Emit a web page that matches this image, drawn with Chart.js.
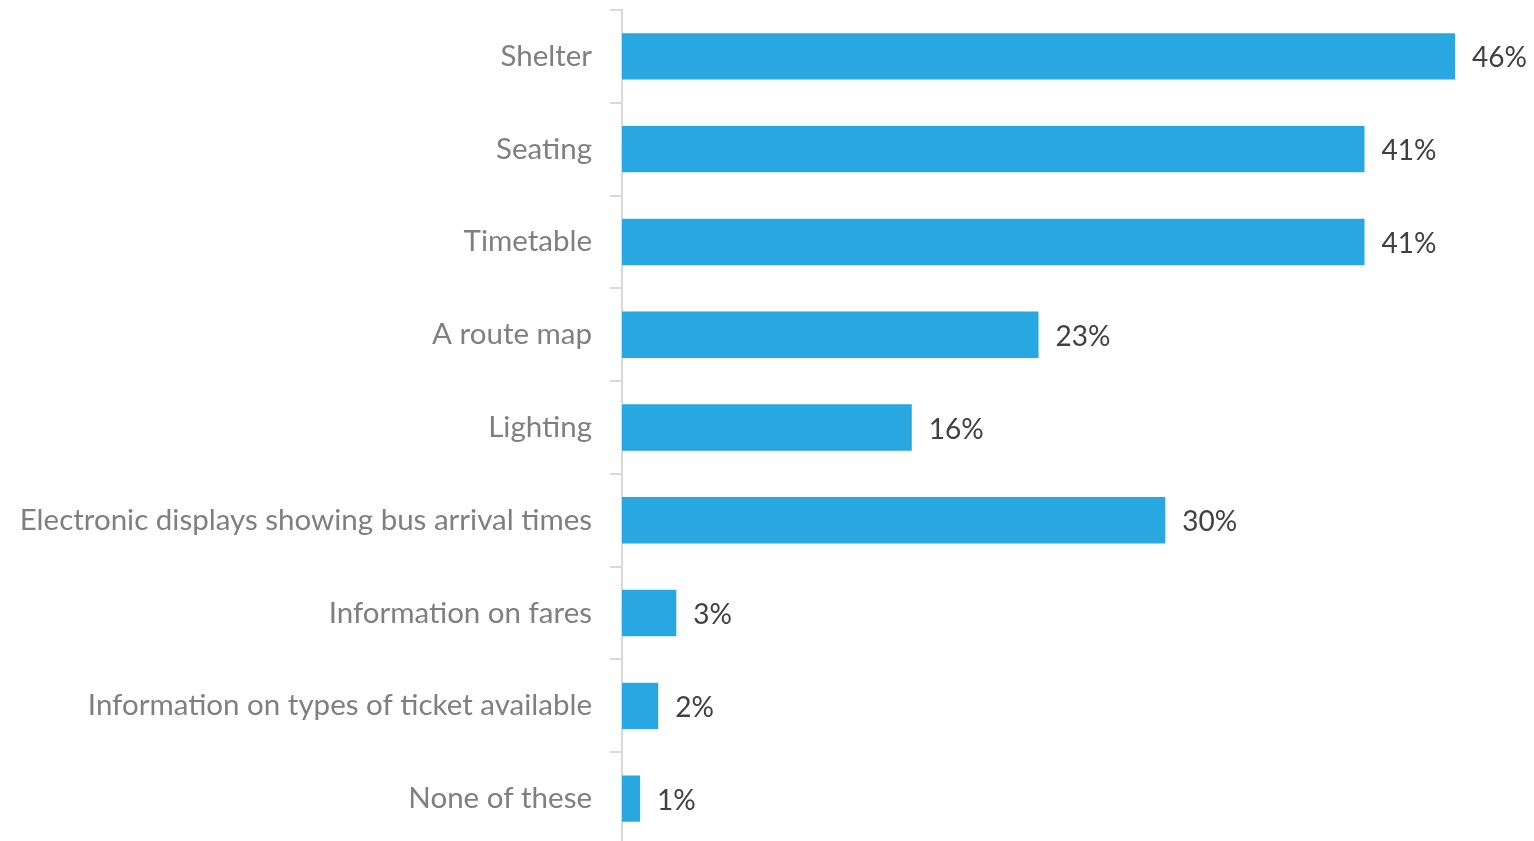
<!DOCTYPE html>
<html>
<head>
<meta charset="utf-8">
<script src="https://cdn.jsdelivr.net/npm/chart.js@4/dist/chart.umd.min.js"></script>
<style>
html,body{margin:0;padding:0;background:#fff;overflow:hidden;}
#wrap{position:relative;width:1534px;height:845px;}
</style>
</head>
<body>
<div id="wrap"><canvas id="c"></canvas></div>
<script>
const categories = [
  "Shelter",
  "Seating",
  "Timetable",
  "A route map",
  "Lighting",
  "Electronic displays showing bus arrival times",
  "Information on fares",
  "Information on types of ticket available",
  "None of these"
];
const values = [46, 41, 41, 23, 16, 30, 3, 2, 1];
const valueLabels = ["46%", "41%", "41%", "23%", "16%", "30%", "3%", "2%", "1%"];

const FONT = "Lato, 'Open Sans', sans-serif";

const valueLabelPlugin = {
  id: 'valueLabels',
  afterDatasetsDraw(chart) {
    const ctx = chart.ctx;
    const meta = chart.getDatasetMeta(0);
    ctx.save();
    ctx.font = "28px " + FONT;
    ctx.fillStyle = "#404040";
    ctx.textAlign = "left";
    ctx.textBaseline = "middle";
    meta.data.forEach((bar, i) => {
      ctx.fillText(valueLabels[i], bar.x + 17, bar.y + 2);
    });
    ctx.restore();
  }
};

new Chart(document.getElementById('c'), {
  type: 'bar',
  data: {
    labels: categories,
    datasets: [{
      data: values,
      backgroundColor: '#29A7E1',
      borderWidth: 0,
      categoryPercentage: 0.5,
      barPercentage: 1.0
    }]
  },
  options: {
    indexAxis: 'y',
    responsive: true,
    maintainAspectRatio: false,
    animation: false,
    layout: { padding: { top: 10, right: 6.5, bottom: 0, left: 0 } },
    plugins: { legend: { display: false }, tooltip: { enabled: false } },
    scales: {
      x: {
        display: false,
        min: 0,
        max: 50
      },
      y: {
        afterFit(scale) {
          scale.width = 622;
          scale.paddingTop = 0;
          scale.paddingBottom = 0;
        },
        grid: {
          display: true,
          drawOnChartArea: false,
          drawTicks: true,
          tickLength: 12,
          offset: true,
          color: '#d9d9d9',
          lineWidth: 2
        },
        border: { display: true, color: '#d9d9d9', width: 2 },
        ticks: {
          padding: 18,
          color: '#7f7f7f',
          font: { family: FONT, size: 29.5 }
        }
      }
    }
  },
  plugins: [valueLabelPlugin]
});
</script>
</body>
</html>
